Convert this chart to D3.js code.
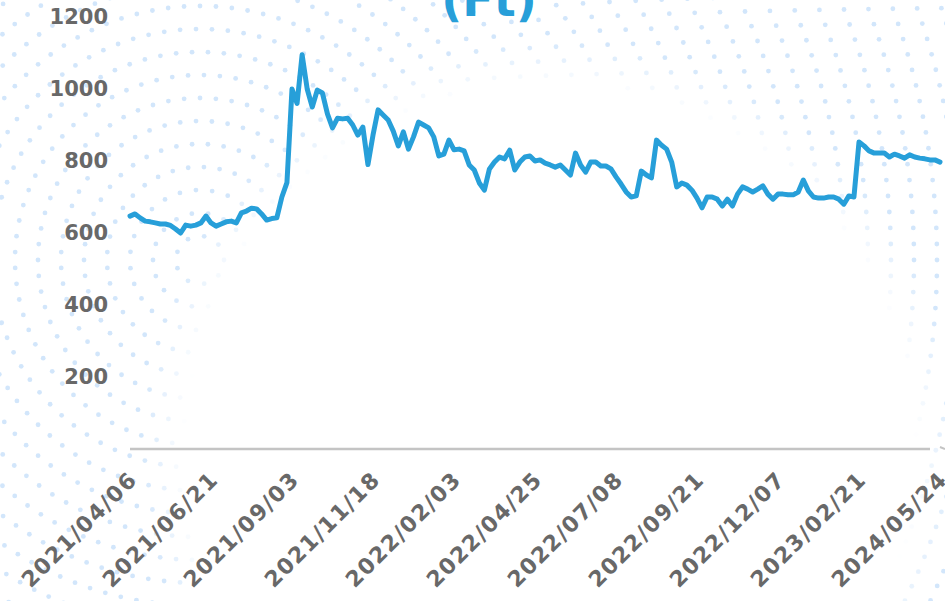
<!DOCTYPE html>
<html>
<head>
<meta charset="utf-8">
<script src="https://cdn.jsdelivr.net/npm/d3@7"></script>
<style>
  html, body { margin: 0; padding: 0; background: #fff; }
  svg { display: block; }
  .tick text { font-family: "DejaVu Sans", sans-serif; font-weight: bold; fill: #686868; }
</style>
</head>
<body>
<div id="chart"></div>
<script>
// tick labels on the category axis (every 16th record)
var dateLabels = ["2021/04/06", "2021/06/21", "2021/09/03", "2021/11/18", "2022/02/03",
                  "2022/04/25", "2022/07/08", "2022/09/21", "2022/12/07", "2023/02/21", "2024/05/24"];
var labelEvery = 16;

var yTicks = [200, 400, 600, 800, 1000, 1200];

// price (Ft), one value per record
var prices = [
  647, 653, 642, 633, 631, 628, 625, 625, 621, 611,
  600, 622, 619, 622, 628, 647, 628, 619, 625, 631,
  633, 628, 656, 661, 669, 667, 653, 636, 640, 642,
  700, 740, 1000, 960, 1095, 1000, 950, 997, 989, 931,
  892, 919, 917, 919, 900, 872, 894, 790, 872, 942,
  928, 914, 883, 842, 881, 833, 867, 908, 900, 892,
  867, 814, 819, 858, 831, 833, 828, 789, 775, 739,
  719, 778, 797, 811, 806, 830, 775, 797, 811, 814,
  800, 803, 794, 789, 783, 789, 775, 761, 822, 789,
  769, 797, 797, 786, 786, 778, 756, 736, 714, 700,
  703, 772, 761, 753, 858, 844, 833, 797, 728, 739,
  733, 719, 697, 670, 700, 700, 694, 675, 694, 675,
  708, 728, 722, 714, 722, 731, 708, 694, 708, 708,
  706, 706, 714, 747, 717, 700, 697, 697, 700, 700,
  694, 680, 703, 700, 853, 842, 828, 822, 822, 822,
  811, 819, 814, 808, 817, 811, 808, 806, 803, 803,
  797
];

function drawChart() {
  var width = 945,
      height = 601,
      plotLeft = 130,
      plotRight = 940,
      plotTop = 17,
      plotBottom = 449;

  var svg = d3.select("#chart")
    .append("svg")
      .attr("width", width)
      .attr("height", height);

  // decorative dotted rings behind the chart, faded out around the plot
  var ringCenter = [200, 260],
      clearCenter = [550, 450];
  var dots = [];
  for (var r = 24; r < 1000; r += 23) {
    var n = Math.round(2 * Math.PI * r / 16);
    for (var k = 0; k < n; k++) {
      var a = k / n * 2 * Math.PI;
      var px = ringCenter[0] + r * Math.cos(a),
          py = ringCenter[1] + r * Math.sin(a);
      if (px < -4 || px > width + 4 || py < -4 || py > height + 4) continue;
      var dist = Math.hypot(px - clearCenter[0], py - clearCenter[1]);
      var op = Math.max(0, Math.min(1, (dist - 365) / 45));
      if (op > 0) dots.push({x: px, y: py, o: op});
    }
  }
  svg.append("g")
    .selectAll("circle")
    .data(dots)
    .enter()
    .append("circle")
      .attr("cx", function(d) { return d.x; })
      .attr("cy", function(d) { return d.y; })
      .attr("r", 2.4)
      .attr("fill", "rgb(210,230,251)")
      .attr("opacity", function(d) { return d.o; });

  var x = d3.scaleLinear()
      .domain([0, prices.length - 1])
      .range([plotLeft, plotRight]);

  var y = d3.scaleLinear()
      .domain([0, 1200])
      .range([plotBottom, plotTop]);

  // title, only its lower part is in view
  svg.append("text")
      .attr("x", 489)
      .attr("y", 16)
      .attr("text-anchor", "middle")
      .style("font-family", "DejaVu Sans, sans-serif")
      .style("font-weight", "bold")
      .style("font-size", "46px")
      .attr("fill", "#279fd9")
      .text("(Ft)");

  // y axis: labels only
  var yAxis = svg.append("g")
      .attr("transform", "translate(" + plotLeft + ",0)")
      .call(d3.axisLeft(y).tickValues(yTicks).tickSize(0).tickPadding(22).tickFormat(d3.format("d")));
  yAxis.select(".domain").remove();
  yAxis.selectAll(".tick text").style("font-size", "21px");

  // x axis with rotated date labels
  var tickIdx = dateLabels.map(function(d, i) { return i * labelEvery; });
  var xAxis = svg.append("g")
      .attr("transform", "translate(0," + plotBottom + ")")
      .call(d3.axisBottom(x)
        .tickValues(tickIdx)
        .tickSize(0)
        .tickFormat(function(d) { return dateLabels[d / labelEvery]; }));
  xAxis.select(".domain")
      .attr("d", "M" + plotLeft + ",0H930")
      .attr("stroke", "#c4c4c4")
      .attr("stroke-width", 2.5);
  xAxis.append("path")
      .attr("d", "M940,-2L945,0")
      .attr("stroke", "#c4c4c4")
      .attr("stroke-width", 2);
  xAxis.selectAll(".tick text")
      .style("font-size", "22px")
      .style("letter-spacing", "1.4px")
      .attr("text-anchor", "end")
      .attr("dy", null)
      .attr("y", null)
      .attr("transform", "translate(8,32) rotate(-45)");

  // price line
  var line = d3.line()
      .x(function(d, i) { return x(i); })
      .y(function(d) { return y(d); });

  svg.append("path")
      .datum(prices)
      .attr("d", line)
      .attr("fill", "none")
      .attr("stroke", "#279fd9")
      .attr("stroke-width", 5)
      .attr("stroke-linejoin", "round")
      .attr("stroke-linecap", "round");
}

drawChart();
</script>
</body>
</html>
